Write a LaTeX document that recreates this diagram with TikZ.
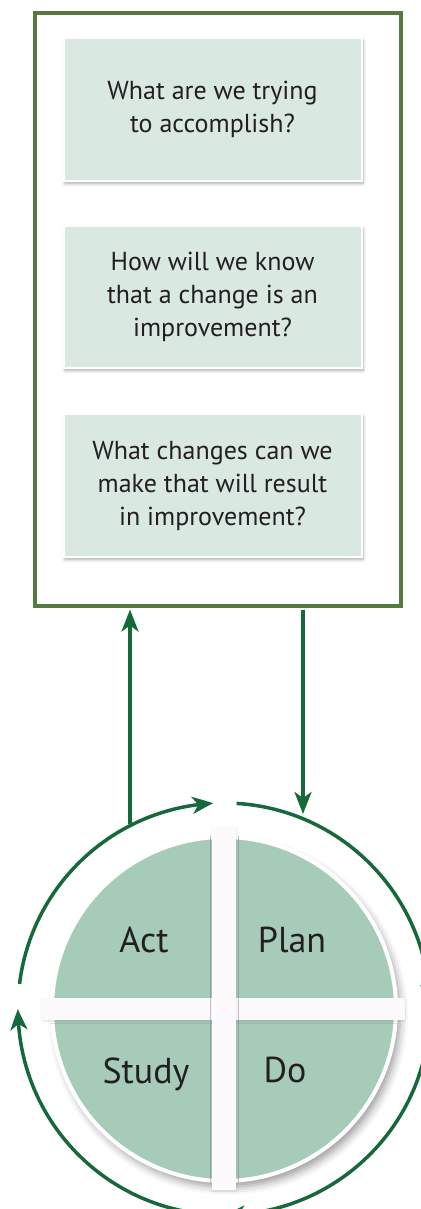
\documentclass[tikz,border=0pt]{standalone}
\usepackage{fontspec}
\setmainfont{PT Sans}
\usetikzlibrary{arrows.meta,bending,shadows.blur,calc}
\definecolor{framegreen}{HTML}{557B3C}
\definecolor{arrowgreen}{HTML}{16693A}
\definecolor{boxfill}{HTML}{D9E8E1}
\definecolor{piefill}{HTML}{A7CBB9}
\definecolor{barwhite}{HTML}{FCFAFC}
\definecolor{txt}{HTML}{231F20}
\begin{document}
\begin{tikzpicture}[x=1pt,y=1pt,
  qbox/.style={rectangle, fill=boxfill, draw=white, line width=2pt,
    minimum width=298pt, minimum height=143pt, inner sep=0pt, align=center,
    text=txt, font=\fontsize{26}{33}\selectfont,
    blur shadow={shadow xshift=1.5pt, shadow yshift=-2.5pt, shadow blur radius=3pt, shadow opacity=35}},
  conn/.style={arrowgreen, line width=3.5pt, -{Stealth[length=22pt,width=17pt,inset=6pt]}},
  cyc/.style={arrowgreen, line width=3.5pt, -{Stealth[length=21pt,width=17pt,inset=6pt,bend]}},
  lbl/.style={text=txt, font=\fontsize{36}{42}\selectfont, anchor=base, inner sep=0pt},
  bar/.style={rectangle, fill=barwhite, inner sep=0pt,
    blur shadow={shadow xshift=0.5pt, shadow yshift=-1pt, shadow blur radius=2pt, shadow opacity=10}}
]
\useasboundingbox (0,0) rectangle (420,-1209);

% outer frame
\node[draw=framegreen, line width=4pt, minimum width=366pt, minimum height=592pt, inner sep=0pt] (frame) at (217.5,-309.5) {};

% question boxes
\node[qbox] (q1) at (212.5,-109.5) {What are we trying\\to accomplish?};
\node[qbox, minimum height=142pt] (q2) at (212.5,-297) {How will we know\\that a change is an\\improvement?};
\node[qbox] (q3) at (212.5,-485.5) {What changes can we\\make that will result\\in improvement?};

% pie
\node[circle, fill=piefill, draw=white, line width=4pt, minimum size=344pt, inner sep=0pt,
  blur shadow={shadow xshift=4pt, shadow yshift=-6pt, shadow blur radius=8pt, shadow opacity=40}] (pie) at (224,-1009) {};
\node[bar, minimum width=363pt, minimum height=22pt] (hbar) at (223.5,-1009) {};
\node[bar, minimum width=24pt, minimum height=363pt] (vbar) at (224,-1008.5) {};

% labels
\node[lbl] (act) at (144,-952) {Act};
\node[lbl] (plan) at (292,-952) {Plan};
\node[lbl] (study) at (146,-1083) {Study};
\node[lbl] (do) at (285,-1082) {Do};

% cycle arcs
\coordinate (c) at (pie.center);
\draw[cyc] ($(c)+(173:206)$) arc[start angle=173, end angle=93, radius=206];
\draw[cyc] ($(c)+(86.5:206)$) arc[start angle=86.5, end angle=1, radius=206];
\draw[cyc] ($(c)+(-6:206)$) arc[start angle=-6, end angle=-90, radius=206];
\draw[cyc] ($(c)+(-93.5:206)$) arc[start angle=-93.5, end angle=-180, radius=206];

% connectors between frame and cycle
\coordinate (upS) at (130,-824);
\coordinate (dnE) at (303,-814);
\draw[conn] (upS) -- ($(upS |- frame.south)+(0,-2)$);
\draw[conn] ($(frame.south -| dnE)+(0,-2)$) -- (dnE);
\end{tikzpicture}
\end{document}
